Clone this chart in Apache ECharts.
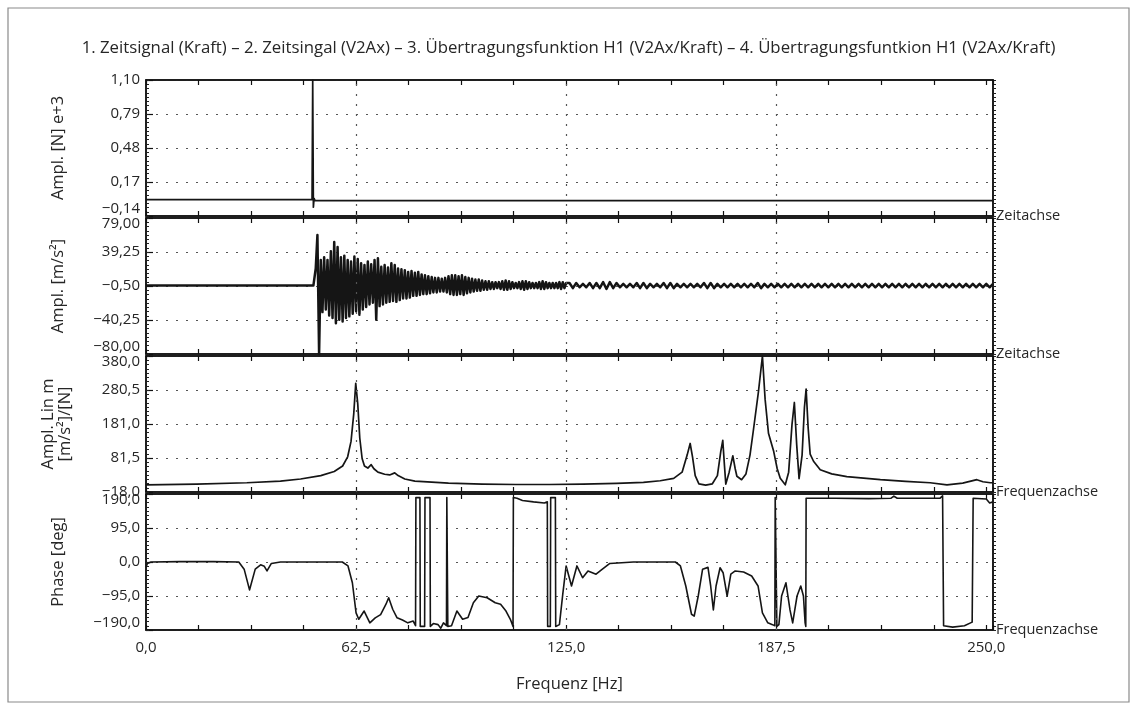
<!DOCTYPE html>
<html><head><meta charset="utf-8">
<script src="https://cdn.jsdelivr.net/npm/echarts@6/dist/echarts.min.js"></script>
<style>html,body{margin:0;padding:0;background:#fff}#c{width:1137px;height:710px}</style>
</head><body><div id="c"></div>
<script>
// ---------- texts ----------
const titleText = '1. Zeitsignal (Kraft) – 2. Zeitsingal (V2Ax) – 3. Übertragungsfunktion H1 (V2Ax/Kraft) – 4. Übertragungsfuntkion H1 (V2Ax/Kraft)';
const yNames = ['Ampl. [N] e+3', 'Ampl. [m/s²]', 'Ampl. Lin m\n[m/s²]/[N]', 'Phase [deg]'];
const axisEndNames = ['Zeitachse', 'Zeitachse', 'Frequenzachse', 'Frequenzachse'];
const xAxisTitle = 'Frequenz [Hz]';

// ---------- tick labels ----------
const yTicksForce = [-0.14, 0.17, 0.48, 0.79, 1.10];
const yTicksAccel = [-80, -40.25, -0.5, 39.25, 79];
const yTicksAmp = [-18, 81.5, 181, 280.5, 380];
const yTicksPhase = [-190, -95, 0, 95, 190];
const yDecimals = [2, 2, 1, 1];
const xMin = 0, xMax = 252;
const xLabelStep = 62.5;
const xMinorStep = 15.625;
const xGridValues = [62.5, 125, 187.5];

// ---------- panel 1: force time signal ----------
const forceX = [0, 49.4, 49.6, 49.8, 50.0, 50.3, 252];
const forceY = [0.01, 0.01, 1.10, -0.06, 0.02, 0.0, 0.0];

// ---------- panel 2: acceleration time signal ----------
const accelLeadX = [0, 49.8];
const accelLeadY = [0, 0];
const burstStart = 50.0, burstStep = 0.5;
const accelBurst = [
  0, 20, 59, -80, 30, -31, 33, -28, 30, -35,
  40, -38, 51, -44, 45, -40, 33, -42, 35, -38,
  30, -36, 28, -33, 34, -30, 31, -34, 26, -28,
  24, -25, 28, -22, 25, -20, 30, -40, 32, -24,
  22, -22, 24, -20, 21, -19, 26, -18, 24, -19,
  20, -17, 19, -15, 18, -15, 16, -14, 17, -12,
  15, -12, 16, -11, 13, -10, 12, -10, 11, -9,
  10, -8, 9, -8, 9, -7, 8, -7, 9, -8,
  11, -10, 12, -11, 12, -11, 11, -10, 12, -11,
  10, -9, 9, -8, 8, -7, 7, -6, 7, -6,
  6, -5, 5, -5, 5, -4, 4, -4, 4, -3,
  4, -4, 5, -5, 6, -5, 5, -4, 4, -3,
  3, -3, 4, -4, 5, -5, 5, -4, 4, -3,
  3, -3, 3, -3, 4, -4, 5, -4, 4, -3,
  3, -3, 3, -3, 3, -3, 4, -4, 4, -3, 3
];
const tailStart = 126, tailStep = 1;
const accelTail = [
  3, -3, 3, -2, 2, -2, 3, -3, 3, -3,
  4, -4, 4, -3, 3, -2, 2, -2, 2, -2,
  3, -3, 3, -3, 2, -2, 2, -2, 3, -3,
  3, -3, 2, -2, 2, -2, 2, -2, 2, -2,
  3, -3, 3, -3, 2, -2, 2, -2, 2, -2,
  2, -2, 2, -2, 2, -2, 3, -3, 2, -2,
  2, -2, 2, -2, 2, -2, 2, -2, 2, -2,
  2, -2, 2, -2, 2, -2, 2, -2, 2, -2,
  2, -2, 2, -2, 2, -2, 2, -2, 2, -2,
  2, -2, 2, -2, 2, -2, 2, -2, 2, -2,
  2, -2, 2, -2, 2, -2, 2, -2, 2, -2,
  2, -2, 2, -2, 2, -2, 2, -2, 2, -2,
  2, -2, 2, -2, 2, -2, 2
];

// ---------- panel 3: FRF amplitude ----------
const ampX = [0, 15, 30, 40, 46, 52, 56, 58.5, 60, 61, 61.8, 62.4, 63, 63.6, 64.3, 65, 66, 67, 67.8, 69,
  71, 72.5, 74, 75, 77, 80, 90, 100, 110, 120, 130, 140, 148, 153, 157, 159.5, 161, 161.9, 162.6, 163.4,
  164.5, 166.5, 168.5, 170, 171, 171.6, 172.1, 172.5, 173.5, 174.6, 175.3, 175.8, 177.2, 178.5, 179.7, 180.7, 182.2, 183.4, 184.2, 185.2,
  186.7, 187.8, 188.7, 190.2, 191.2, 192.2, 192.9, 193.6, 194.3, 195.2, 195.9, 196.4, 197, 197.6, 198.6, 200.6, 204, 208.5, 218.5, 226,
  233.3, 238.3, 243, 247.2, 249, 251.2, 252];
const ampY = [3, 5, 9, 14, 20, 30, 42, 58, 85, 130, 210, 300, 240, 140, 80, 58, 52, 62, 50, 40,
  34, 32, 38, 30, 20, 14, 8, 5, 4, 4, 5, 7, 10, 15, 22, 40, 90, 124, 85, 30,
  6, 2, 6, 30, 100, 133, 60, 5, 40, 88, 50, 28, 18, 35, 90, 162, 274, 380, 253, 154,
  103, 50, 22, 3, 40, 180, 244, 120, 21, 90, 230, 283, 170, 93, 72, 47, 35, 27, 18, 13,
  9, 3, 8, 18, 12, 9, 9];

// ---------- panel 4: FRF phase ----------
const phaseX = [0, 0.4, 1.5, 10, 20, 27.6, 29.2, 30.8, 32.5, 34.1, 35.2, 36, 37.3, 40, 50, 58.4, 60.1, 61.4, 62.5, 63.3,
  64.9, 66.6, 68.2, 69.8, 71.4, 72.2, 73.4, 74.7, 76.3, 77.9, 79.5, 80.2, 80.3, 81.5, 81.6, 82.9, 83.0, 84.5, 84.6, 85.5,
  86.9, 87.7, 88.5, 89.4, 89.5, 89.7, 89.8, 90.9, 92.5, 94.2, 95.8, 97.4, 99, 101.5, 103.9, 105.5, 107.1, 108.4, 109.2, 109.3,
  110.4, 112, 115.3, 118.5, 119.4, 119.5, 120.3, 120.4, 121.8, 121.9, 123.0, 124, 125, 126.6, 128.2, 129.9, 131.5, 133.9, 135.5, 138,
  145, 157.5, 159, 160.6, 162.3, 163.1, 164.3, 165.6, 167.2, 168, 168.8, 169.6, 170.8, 171.7, 172.9, 174, 175.3, 177.8, 180.2, 182.1,
  183.4, 185, 186.4, 187.1, 187.2, 187.6, 187.7, 188.3, 189.1, 190.4, 191.6, 192.4, 193.7, 194.8, 195.6, 196.1, 196.3, 196.4, 205, 215,
  221.6, 222.5, 223.5, 230, 236.2, 237, 237.2, 237.3, 240, 243.5, 245.8, 246.0, 246.1, 250, 251, 252];
const phaseY = [-15, -4, 0, 1, 1, 0, -20, -78, -20, -8, -12, -25, -4, 0, 0, 0, -11, -58, -142, -160,
  -137, -170, -156, -147, -118, -100, -132, -156, -162, -170, -165, -178, 180, 180, -180, -180, 180, 180, -180, -172,
  -175, -185, -170, -178, 180, 180, -180, -178, -137, -160, -155, -114, -95, -100, -114, -118, -137, -160, -180, 180,
  178, 172, 168, 165, 168, -180, -180, 180, 180, -180, -175, -90, -11, -67, -11, -44, -25, -34, -22, -4,
  0, 0, -11, -67, -146, -151, -95, -20, -15, -67, -134, -67, -16, -30, -95, -34, -25, -28, -39, -67,
  -142, -170, -175, -178, 180, 180, -180, -175, -95, -58, -134, -170, -95, -67, -95, -170, -180, 178, 178, 177,
  178, 184, 178, 178, 178, 185, 180, -178, -182, -178, -168, -170, 178, 176, 165, 168];

// ---------- build ----------
const FONT = '"Open Sans", "Noto Sans", sans-serif';
const TXT = '#262626';
const INK = '#151515';
const GRID_TOPS = [80, 218, 356, 494];
const GRID_H = 136;
const yTickSets = [yTicksForce, yTicksAccel, yTicksAmp, yTicksPhase];
const TICK_FS = 15, NAME_FS = 16.5;
const DOTTED = { type: [2, 8], color: '#555', width: 1.2 };

function zip(xs, ys) { return xs.map((x, i) => [x, ys[i]]); }
function fmtNum(v, d) {
  const s = Math.abs(v).toFixed(d).replace('.', ',');
  return (v < 0 ? '\u2212' : '') + s;
}

const forceData = zip(forceX, forceY);
const accelData = zip(accelLeadX, accelLeadY)
  .concat(accelBurst.map((v, i) => [burstStart + i * burstStep, v]))
  .concat(accelTail.map((v, i) => [tailStart + i * tailStep, v]));
const ampData = zip(ampX, ampY);
const phaseData = zip(phaseX, phaseY);
const panelData = [forceData, accelData, ampData, phaseData];
const lineWidths = [1.7, 2.5, 1.7, 1.6];

const grid = [], xAxis = [], yAxis = [], series = [];
const shiftIn = [[true, false], [true, true], [false, true], [true, true]];

for (let i = 0; i < 4; i++) {
  grid.push({ left: 146, right: 144, top: GRID_TOPS[i], height: GRID_H, show: true,
    borderColor: '#111', borderWidth: 1.5, backgroundColor: 'transparent' });
  const isBottom = i === 3;
  xAxis.push({
    type: 'value', gridIndex: i, min: xMin, max: xMax, interval: xMinorStep, position: 'bottom',
    axisLine: { show: true, onZero: false, lineStyle: { color: '#111', width: 1.5 } },
    axisTick: { show: true, inside: true, length: 5, lineStyle: { color: '#111', width: 1.2 } },
    axisLabel: { show: isBottom, margin: 10, color: TXT, fontSize: TICK_FS, fontFamily: FONT,
      formatter: v => (Math.abs(v / xLabelStep - Math.round(v / xLabelStep)) < 1e-9 && v <= 250) ? fmtNum(v, 1) : '' },
    splitLine: { show: false },
    name: axisEndNames[i], nameLocation: 'end', nameGap: 3,
    nameTextStyle: { color: TXT, fontSize: 14.5, fontFamily: FONT, align: 'left', verticalAlign: 'middle' }
  });
  xAxis.push({
    type: 'value', gridIndex: i, min: xMin, max: xMax, interval: xMinorStep, position: 'top',
    axisLine: { show: true, onZero: false, lineStyle: { color: '#111', width: 1.5 } },
    axisTick: { show: true, inside: true, length: 5, lineStyle: { color: '#111', width: 1.2 } },
    axisLabel: { show: false }, splitLine: { show: false },
    name: isBottom ? xAxisTitle : '', nameLocation: 'middle', nameGap: -(GRID_H + 46),
    nameTextStyle: { color: TXT, fontSize: NAME_FS, fontFamily: FONT, verticalAlign: 'top' }
  });

  const ticks = yTickSets[i];
  const d = yDecimals[i];
  const lo = ticks[0], hi = ticks[ticks.length - 1];
  const sh = shiftIn[i];
  yAxis.push({
    type: 'value', gridIndex: i, min: lo, max: hi, position: 'left',
    axisLine: { show: true, onZero: false, lineStyle: { color: '#111', width: 1.5 } },
    axisTick: { show: true, inside: true, length: 7, customValues: ticks, lineStyle: { color: '#111', width: 1.2 } },
    axisLabel: { customValues: ticks, margin: 6, color: TXT, fontSize: TICK_FS, fontFamily: FONT,
      formatter: v => {
        const s = fmtNum(v, d);
        if (v === lo && sh[0]) return '{up|' + s + '}';
        if (v === hi && sh[1]) return '{dn|' + s + '}';
        return s;
      },
      rich: { up: { padding: [0, 0, 14, 0], fontSize: TICK_FS, fontFamily: FONT, color: TXT },
              dn: { padding: [12, 0, 0, 0], fontSize: TICK_FS, fontFamily: FONT, color: TXT } } },
    splitLine: { show: true, lineStyle: DOTTED },
    name: yNames[i], nameLocation: 'middle', nameRotate: 90, nameGap: i === 2 ? 72 : 79,
    nameTextStyle: { color: TXT, fontSize: NAME_FS, fontFamily: FONT, lineHeight: 17 }
  });
  yAxis.push({
    type: 'value', gridIndex: i, min: 0, max: 32, interval: 1, position: 'left',
    axisLine: { show: false, onZero: false },
    axisTick: { show: true, inside: true, length: 3, lineStyle: { color: '#222', width: 1 } },
    axisLabel: { show: false }, splitLine: { show: false }
  });
  yAxis.push({
    type: 'value', gridIndex: i, min: 0, max: 32, interval: 1, position: 'right',
    axisLine: { show: true, onZero: false, lineStyle: { color: '#111', width: 1.5 } },
    axisTick: { show: true, inside: false, length: 3, lineStyle: { color: '#222', width: 1 } },
    axisLabel: { show: false }, splitLine: { show: false }
  });

  series.push({
    type: 'line', xAxisIndex: 2 * i, yAxisIndex: 3 * i, data: panelData[i],
    showSymbol: false, symbol: 'none', clip: true, animation: false,
    lineStyle: { color: INK, width: lineWidths[i], join: 'round' },
    markLine: { silent: true, symbol: ['none', 'none'], label: { show: false }, animation: false,
      lineStyle: DOTTED, data: xGridValues.map(v => ({ xAxis: v })) }
  });
}

const chart = echarts.init(document.getElementById('c'));
chart.setOption({
  backgroundColor: '#ffffff',
  animation: false,
  title: { text: titleText, left: 'center', top: 35,
    textStyle: { color: TXT, fontSize: 16.8, fontWeight: 'normal', fontFamily: FONT } },
  graphic: [{ type: 'rect', shape: { x: 8, y: 8, width: 1121, height: 694 },
    style: { fill: 'none', stroke: '#8a8a8a', lineWidth: 1.2 }, silent: true, z: -1 }],
  grid, xAxis, yAxis, series
});
</script></body></html>
